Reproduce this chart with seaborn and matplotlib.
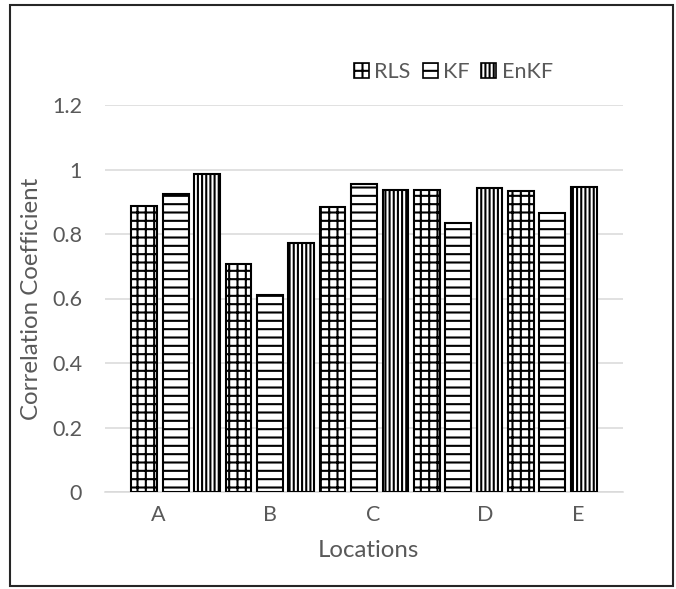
import numpy as np
import pandas as pd
import seaborn as sns
import matplotlib.pyplot as plt
from matplotlib.patches import Patch, Rectangle

# Correlation coefficients per location and estimator
locations = ["A", "B", "C", "D", "E"]
methods = ["RLS", "KF", "EnKF"]
rls_values = [0.887, 0.708, 0.885, 0.936, 0.934]
kf_values = [0.924, 0.611, 0.954, 0.833, 0.865]
enkf_values = [0.987, 0.772, 0.936, 0.943, 0.947]

# x positions of the location labels along the category axis
label_positions = [-0.19, 1.0, 2.1, 3.29, 4.27]

df = pd.DataFrame({
    "Location": np.repeat(locations, 3),
    "Method": methods * len(locations),
    "Value": np.ravel(np.column_stack([rls_values, kf_values, enkf_values])),
})

sns.set_theme(style="white")
plt.rcParams["font.family"] = ["Lato", "DejaVu Sans"]
plt.rcParams["hatch.linewidth"] = 1.5
plt.rcParams["hatch.color"] = "black"

text_color = "#595959"
grid_color = "#d9d9d9"
hatches = {"RLS": "++", "KF": "--", "EnKF": "||||"}

fig = plt.figure(figsize=(6.76, 5.89), dpi=100)
ax = fig.add_axes([105 / 676, 1 - 492 / 589, 518 / 676, 387 / 589])

sns.barplot(
    data=df, x="Location", y="Value", hue="Method",
    order=locations, hue_order=methods,
    width=1.0, gap=0.18, dodge=True, legend=False,
    palette=["white"] * 3,
    edgecolor="black", linewidth=1.5, ax=ax,
)

for method, container in zip(methods, ax.containers):
    for bar in container:
        bar.set_hatch(hatches[method])
        bar.set_facecolor("white")
        bar.set_edgecolor("black")
        bar.set_zorder(3)

ax.set_xlim(-0.75, 4.75)
ax.set_ylim(0, 1.2)
ax.set_yticks([0, 0.2, 0.4, 0.6, 0.8, 1.0, 1.2])
ax.set_yticklabels(["0", "0.2", "0.4", "0.6", "0.8", "1", "1.2"])
ax.set_xticks(label_positions)
ax.set_xticklabels(locations)

ax.grid(axis="y", color=grid_color, linewidth=1.1, zorder=0)
ax.set_axisbelow(True)
for side in ["top", "right", "left"]:
    ax.spines[side].set_visible(False)
ax.spines["bottom"].set_color(grid_color)
ax.spines["bottom"].set_linewidth(1.1)

ax.tick_params(axis="y", length=0, pad=16.5, labelsize=15.5, labelcolor=text_color)
ax.tick_params(axis="x", length=0, pad=9.5, labelsize=15.5, labelcolor=text_color)

ax.set_xlabel("Locations", fontsize=17.3, color=text_color, va="center")
ax.xaxis.set_label_coords(0.508, -0.15)
ax.set_ylabel("Correlation Coefficient", fontsize=17.3, color=text_color,
              va="center", ha="center")
ax.yaxis.set_label_coords(-0.141, 0.5)

handles = [Patch(facecolor="white", edgecolor="black", linewidth=1.2,
                 hatch=hatches[m], label=m) for m in methods]
leg = ax.legend(
    handles=handles, ncol=3, frameon=False, loc="center right",
    bbox_to_anchor=(553 / 676, 1 - 72 / 589), bbox_transform=fig.transFigure,
    borderaxespad=0, borderpad=0,
    handlelength=0.7, handleheight=0.7, handletextpad=0.25,
    columnspacing=0.55, fontsize=15.5,
)
for t in leg.get_texts():
    t.set_color(text_color)

fig.patches.append(Rectangle(
    (10 / 676, 1 - 586 / 589), 663 / 676, 581 / 589,
    transform=fig.transFigure, fill=False, edgecolor="#262626", linewidth=1.5,
))

fig.savefig("out.png", dpi=100)
